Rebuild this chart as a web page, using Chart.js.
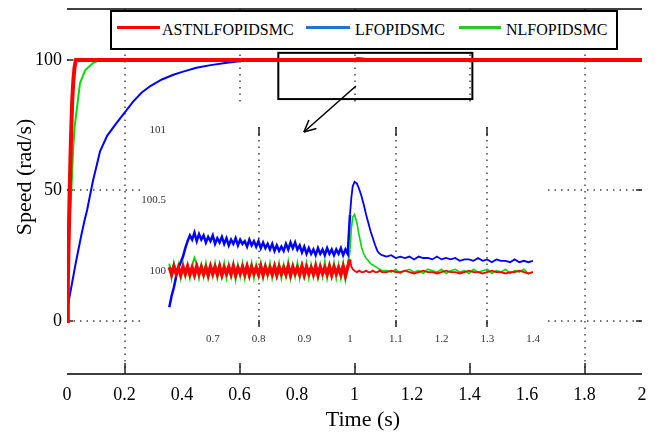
<!DOCTYPE html>
<html>
<head>
<meta charset="utf-8">
<script src="https://cdn.jsdelivr.net/npm/chart.js@4.4.1/dist/chart.umd.min.js"></script>
<style>
  html, body { margin: 0; padding: 0; background: #fff; }
  #wrap { position: relative; width: 659px; height: 435px; overflow: hidden; }
  #mainChart { position: absolute; left: 0; top: 0; }
  #insetChart { position: absolute; }
  #legend {
    position: absolute; left: 110px; top: 10px; width: 504px; height: 36px;
    border: 2px solid #000; background: #fff;
    font-family: "Liberation Serif", "Times New Roman", serif; font-size: 16px; color: #000;
  }
  .lg-line { position: absolute; top: 14px; height: 3px; }
  .lg-text { position: absolute; top: 9px; line-height: 18px; white-space: nowrap; }
</style>
</head>
<body>
<div id="wrap">
  <canvas id="mainChart" width="659" height="435"></canvas>
  <canvas id="insetChart"></canvas>
  <div id="legend"></div>
</div>
<script>
// Series names and colours
const seriesNames = ["ASTNLFOPIDSMC", "LFOPIDSMC", "NLFOPIDSMC"];
const lineColors = ["#ff0000", "#0000ff", "#00dd00"];
const legendColors = ["#ff0000", "#1f77c8", "#22cc22"];
const xTitle = "Time (s)";
const yTitle = "Speed (rad/s)";

// Main plot: ticks
const xTicksMain = [0, 0.2, 0.4, 0.6, 0.8, 1, 1.2, 1.4, 1.6, 1.8, 2];
const xGridMain = [0.2, 0.6, 1, 1.4, 1.8];
const yTicksMain = [0, 50, 100];

// Main plot: speed responses (time s, speed rad/s)
const tRed = [0, 0.003, 0.006, 0.009, 0.012, 0.015, 0.018, 0.022, 0.026, 0.031, 2];
const vRed = [0, 15, 32, 48, 62, 74, 84, 92, 97, 100, 100];

const tBlue = [0, 0.01, 0.02, 0.03, 0.04, 0.05, 0.06, 0.07, 0.09, 0.115, 0.14, 0.17, 0.195,
  0.23, 0.26, 0.29, 0.33, 0.37, 0.404, 0.45, 0.5, 0.55, 0.6, 0.65,
  0.995, 1.0, 1.012, 1.025, 1.04, 1.06, 1.08, 2];
const vBlue = [4, 10, 16, 22, 27.5, 33, 38, 42.5, 53.5, 65, 71, 75.5, 79,
  84, 87.5, 90, 92.5, 94.3, 95.5, 97, 98, 98.8, 99.5, 100.2,
  100.13, 100.4, 100.63, 100.55, 100.34, 100.15, 100.1, 100.05];

const tGreen = [0, 0.004, 0.009, 0.014, 0.018, 0.021, 0.026, 0.034, 0.045, 0.063, 0.09, 0.115,
  0.995, 1.003, 1.01, 1.025, 1.04, 1.07, 2];
const vGreen = [0, 25, 38, 47.5, 57, 65, 74, 81, 91, 96, 98.8, 100,
  100, 100.3, 100.4, 100.17, 100.07, 100, 100];

// Inset (zoom on 0.6 - 1.4 s): ticks
const xTicksInset = [0.7, 0.8, 0.9, 1, 1.1, 1.2, 1.3, 1.4];
const xGridInset = [0.8, 1.1, 1.3];
const yTicksInset = [100, 100.5, 101];

// Inset: time samples
const tInset = [
  0.605, 0.61, 0.615, 0.62, 0.625, 0.63, 0.635, 0.64, 0.645, 0.65,
  0.655, 0.66, 0.665, 0.67, 0.675, 0.68, 0.685, 0.69, 0.695, 0.7,
  0.705, 0.71, 0.715, 0.72, 0.725, 0.73, 0.735, 0.74, 0.745, 0.75,
  0.755, 0.76, 0.765, 0.77, 0.775, 0.78, 0.785, 0.79, 0.795, 0.8,
  0.805, 0.81, 0.815, 0.82, 0.825, 0.83, 0.835, 0.84, 0.845, 0.85,
  0.855, 0.86, 0.865, 0.87, 0.875, 0.88, 0.885, 0.89, 0.895, 0.9,
  0.905, 0.91, 0.915, 0.92, 0.925, 0.93, 0.935, 0.94, 0.945, 0.95,
  0.955, 0.96, 0.965, 0.97, 0.975, 0.98, 0.985, 0.99, 0.995,
  1.0, 1.003, 1.006, 1.01, 1.015, 1.02, 1.025, 1.03, 1.035, 1.04, 1.045, 1.05, 1.055, 1.06, 1.065, 1.07,
  1.08, 1.09, 1.1, 1.11, 1.12, 1.13, 1.14, 1.15, 1.16, 1.17, 1.18, 1.19, 1.2,
  1.21, 1.22, 1.23, 1.24, 1.25, 1.26, 1.27, 1.28, 1.29, 1.3,
  1.31, 1.32, 1.33, 1.34, 1.35, 1.36, 1.37, 1.38, 1.39, 1.4
];

const redInset = [
  100.025, 99.975, 100.03, 99.98, 100.02, 99.97, 100.025, 99.98, 100.03, 99.975,
  100.02, 99.97, 100.03, 99.98, 100.025, 99.975, 100.02, 99.97, 100.03, 99.98,
  100.025, 99.975, 100.03, 99.97, 100.02, 99.98, 100.025, 99.975, 100.03, 99.97,
  100.02, 99.98, 100.025, 99.975, 100.03, 99.97, 100.025, 99.98, 100.02, 99.975,
  100.03, 99.97, 100.025, 99.98, 100.02, 99.975, 100.03, 99.97, 100.025, 99.98,
  100.02, 99.975, 100.03, 99.97, 100.025, 99.98, 100.02, 99.975, 100.03, 99.97,
  100.025, 99.98, 100.02, 99.975, 100.03, 99.97, 100.025, 99.98, 100.02, 99.975,
  100.03, 99.97, 100.025, 99.98, 100.02, 99.975, 100.03, 99.965, 100.025,
  100.08, 100.03, 100.01, 100.0, 99.99, 100.0, 99.99, 99.99, 100.0, 99.99, 99.99, 100.0, 99.99, 99.99, 100.0, 99.99,
  99.99, 100.0, 99.99, 99.99, 100.0, 99.99, 99.98, 99.99, 100.0, 99.99, 99.99, 99.98, 99.99,
  100.0, 99.99, 99.99, 99.98, 99.99, 100.0, 99.99, 99.99, 99.98, 99.99,
  100.0, 99.99, 99.99, 99.98, 99.99, 99.99, 100.0, 99.99, 99.98, 99.99
];

const blueInset = [
  99.74, 99.82, 99.88, 99.96, 100.02, 100.06, 100.10, 100.16, 100.21, 100.25,
  100.22, 100.27, 100.21, 100.26, 100.22, 100.25, 100.20, 100.24, 100.21, 100.25,
  100.19, 100.23, 100.20, 100.24, 100.19, 100.23, 100.18, 100.22, 100.19, 100.23,
  100.18, 100.22, 100.19, 100.21, 100.17, 100.22, 100.18, 100.21, 100.17, 100.21,
  100.16, 100.20, 100.16, 100.19, 100.15, 100.19, 100.14, 100.18, 100.14, 100.17,
  100.14, 100.19, 100.15, 100.20, 100.16, 100.20, 100.15, 100.18, 100.13, 100.17,
  100.12, 100.16, 100.12, 100.15, 100.11, 100.16, 100.12, 100.15, 100.11, 100.16,
  100.12, 100.15, 100.11, 100.15, 100.12, 100.16, 100.11, 100.15, 100.12,
  100.40, 100.52, 100.60, 100.63, 100.62, 100.58, 100.53, 100.47, 100.40, 100.34, 100.28, 100.23, 100.18, 100.14, 100.12, 100.11,
  100.10, 100.11, 100.09, 100.10, 100.09, 100.10, 100.08, 100.10, 100.09, 100.09, 100.08, 100.10, 100.08,
  100.09, 100.08, 100.09, 100.07, 100.08, 100.08, 100.07, 100.09, 100.07, 100.08,
  100.06, 100.08, 100.07, 100.07, 100.06, 100.08, 100.06, 100.07, 100.06, 100.07
];

const greenInset = [
  100.05, 99.95, 100.05, 99.96, 100.04, 99.95, 100.05, 99.96, 100.03, 99.95,
  100.04, 100.09, 100.05, 99.95, 100.04, 99.96, 100.05, 99.95, 100.03, 99.96,
  100.05, 99.95, 100.04, 99.96, 100.05, 99.95, 100.04, 99.96, 100.05, 99.94,
  100.04, 99.96, 100.05, 99.95, 100.03, 99.96, 100.05, 99.95, 100.04, 99.96,
  100.05, 99.95, 100.04, 99.96, 100.05, 99.95, 100.03, 99.96, 100.05, 99.95,
  100.04, 99.96, 100.06, 99.95, 100.04, 99.96, 100.05, 99.95, 100.04, 99.96,
  100.05, 99.95, 100.04, 99.96, 100.05, 99.95, 100.04, 99.96, 100.06, 99.95,
  100.04, 99.96, 100.05, 99.95, 100.04, 99.95, 100.05, 99.94, 100.04,
  100.15, 100.30, 100.38, 100.40, 100.34, 100.25, 100.17, 100.12, 100.09, 100.07, 100.05, 100.04, 100.03, 100.02, 100.01, 100.00,
  100.00, 99.99, 100.01, 99.98, 100.00, 100.01, 99.99, 100.00, 99.98, 100.01, 100.00, 99.99, 100.01,
  99.98, 100.00, 100.01, 99.99, 100.00, 99.98, 100.01, 99.99, 100.00, 100.01,
  99.98, 100.00, 99.99, 100.01, 99.98, 100.00, 99.99, 100.01, 99.98, 99.99
];

// where the inset sits on the page (white panel + its canvas)
const INSET = { left: 140, top: 103, width: 408, height: 259 };

const serif = "'Liberation Serif', 'Times New Roman', serif";

function toPoints(ts, vs) {
  const n = Math.min(ts.length, vs.length);
  const out = [];
  for (let i = 0; i < n; i++) out.push({ x: ts[i], y: vs[i] });
  return out;
}

function strokeLine(ctx, x1, y1, x2, y2) {
  ctx.beginPath();
  ctx.moveTo(x1, y1);
  ctx.lineTo(x2, y2);
  ctx.stroke();
}

// thick noisy band before the load step, thin trace after it
function stepWidth(before, after) {
  return c => (c.p0.parsed.x < 0.999 ? before : after);
}

// Legend (HTML, built from the series)
const legendEl = document.getElementById("legend");
const legendLayout = [ [5, 43, 50], [194, 44, 243], [347, 42, 394] ];
seriesNames.forEach((name, i) => {
  const [lx, lw, tx] = legendLayout[i];
  legendEl.innerHTML += `<div class="lg-line" style="left:${lx}px;width:${lw}px;background:${legendColors[i]}"></div>` +
    `<div class="lg-text" style="left:${tx}px">${name}</div>`;
});

// Frame, dotted grid, inward ticks, zoom box and arrow of the main plot
const mainFrame = {
  id: "mainFrame",
  beforeDatasetsDraw(chart) {
    const { ctx, chartArea: a, scales: { x, y } } = chart;
    ctx.save();

    ctx.strokeStyle = "#444";
    ctx.lineWidth = 1.5;
    ctx.setLineDash([1.5, 5]);
    xGridMain.forEach(v => {
      const px = Math.round(x.getPixelForValue(v));
      strokeLine(ctx, px, a.top, px, a.bottom);
    });
    yTicksMain.forEach(v => {
      const py = Math.round(y.getPixelForValue(v));
      strokeLine(ctx, a.left, py, a.right, py);
    });
    ctx.setLineDash([]);

    // white panel behind the inset
    ctx.fillStyle = "#fff";
    ctx.fillRect(INSET.left, INSET.top, INSET.width, INSET.height);

    // top and bottom axis lines
    ctx.strokeStyle = "#000";
    ctx.lineWidth = 1.5;
    strokeLine(ctx, a.left, a.top, a.right, a.top);
    strokeLine(ctx, a.left, a.bottom, a.right, a.bottom);

    // inward tick marks
    ctx.strokeStyle = "#222";
    xGridMain.forEach(v => {
      const px = Math.round(x.getPixelForValue(v));
      strokeLine(ctx, px, a.bottom, px, a.bottom - 11);
      strokeLine(ctx, px, a.top, px, a.top + 10);
    });
    yTicksMain.forEach(v => {
      const py = Math.round(y.getPixelForValue(v));
      strokeLine(ctx, a.left, py, a.left + 6, py);
      strokeLine(ctx, a.right, py, a.right - 6, py);
    });

    // zoom box
    ctx.strokeStyle = "#000";
    ctx.lineWidth = 2;
    const bx0 = x.getPixelForValue(0.735), bx1 = x.getPixelForValue(1.41);
    const by0 = y.getPixelForValue(102.7), by1 = y.getPixelForValue(85);
    ctx.strokeRect(bx0, by0, bx1 - bx0, by1 - by0);

    // arrow towards the inset
    ctx.lineWidth = 1.5;
    const ax0 = x.getPixelForValue(1.005), ay0 = y.getPixelForValue(90);
    const ax1 = x.getPixelForValue(0.824), ay1 = y.getPixelForValue(72.4);
    strokeLine(ctx, ax0, ay0, ax1, ay1);
    const ang = Math.atan2(ay1 - ay0, ax1 - ax0);
    const head = 13, spread = 0.45;
    strokeLine(ctx, ax1, ay1, ax1 - head * Math.cos(ang - spread), ay1 - head * Math.sin(ang - spread));
    strokeLine(ctx, ax1, ay1, ax1 - head * Math.cos(ang + spread), ay1 - head * Math.sin(ang + spread));

    // axis titles
    ctx.fillStyle = "#000";
    ctx.font = "22px " + serif;
    ctx.textAlign = "center";
    ctx.textBaseline = "middle";
    ctx.fillText(xTitle, 363, 420);
    ctx.translate(25, 177);
    ctx.rotate(-Math.PI / 2);
    ctx.fillText(yTitle, 0, 0);

    ctx.restore();
  }
};

new Chart(document.getElementById("mainChart"), {
  type: "line",
  data: {
    datasets: [
      { label: seriesNames[0], data: toPoints(tRed, vRed), borderColor: lineColors[0], borderWidth: 4 },
      { label: seriesNames[1], data: toPoints(tBlue, vBlue), borderColor: lineColors[1], borderWidth: 2 },
      { label: seriesNames[2], data: toPoints(tGreen, vGreen), borderColor: lineColors[2], borderWidth: 2 }
    ]
  },
  options: {
    responsive: false,
    animation: false,
    layout: { padding: { top: 9, right: 17, left: 0, bottom: 0 } },
    elements: { point: { radius: 0 }, line: { tension: 0 } },
    plugins: { legend: { display: false }, tooltip: { enabled: false } },
    scales: {
      x: {
        type: "linear", min: 0, max: 2,
        afterBuildTicks: s => { s.ticks = xTicksMain.map(v => ({ value: v })); },
        afterFit: s => { s.height = 61; },
        grid: { display: false, drawTicks: false },
        border: { display: false },
        ticks: {
          autoSkip: false, maxRotation: 0, padding: 10, color: "#000",
          font: { family: serif, size: 18 },
          callback: v => String(v)
        }
      },
      y: {
        min: -20.3, max: 119.5,
        afterBuildTicks: s => { s.ticks = yTicksMain.map(v => ({ value: v })); },
        afterFit: s => { s.width = 67; s.paddingTop = 0; s.paddingBottom = 0; },
        grid: { display: false, drawTicks: false },
        border: { display: false },
        ticks: { padding: 5, color: "#000", font: { family: serif, size: 18 } }
      }
    }
  },
  plugins: [mainFrame]
});

// Inset chart
const insetCanvas = document.getElementById("insetChart");
insetCanvas.width = INSET.width;
insetCanvas.height = INSET.height;
insetCanvas.style.left = INSET.left + "px";
insetCanvas.style.top = INSET.top + "px";

const insetFrame = {
  id: "insetFrame",
  beforeDatasetsDraw(chart) {
    const { ctx, chartArea: a, scales: { x } } = chart;
    ctx.save();
    ctx.strokeStyle = "#444";
    ctx.lineWidth = 1.5;
    ctx.setLineDash([1.5, 5]);
    xGridInset.forEach(v => {
      const px = Math.round(x.getPixelForValue(v));
      strokeLine(ctx, px, a.top, px, a.bottom);
    });
    ctx.setLineDash([]);
    ctx.strokeStyle = "#222";
    xGridInset.forEach(v => {
      const px = Math.round(x.getPixelForValue(v));
      strokeLine(ctx, px, a.top, px, a.top + 9);
      strokeLine(ctx, px, a.bottom, px, a.bottom - 7);
    });
    ctx.restore();
  }
};

new Chart(insetCanvas, {
  type: "line",
  data: {
    datasets: [
      { label: seriesNames[0], data: toPoints(tInset, redInset), borderColor: lineColors[0], borderWidth: 3.5,
        segment: { borderWidth: stepWidth(3.5, 1.8) } },
      { label: seriesNames[1], data: toPoints(tInset, blueInset), borderColor: lineColors[1], borderWidth: 2.5,
        segment: { borderWidth: stepWidth(2.5, 1.8) } },
      { label: seriesNames[2], data: toPoints(tInset, greenInset), borderColor: lineColors[2], borderWidth: 2,
        segment: { borderWidth: stepWidth(2, 1.6) } }
    ]
  },
  options: {
    responsive: false,
    animation: false,
    layout: { padding: { top: 24, right: 15, left: 0, bottom: 0 } },
    elements: { point: { radius: 0 }, line: { tension: 0 } },
    plugins: { legend: { display: false }, tooltip: { enabled: false } },
    scales: {
      x: {
        type: "linear", min: 0.6, max: 1.4,
        afterBuildTicks: s => { s.ticks = xTicksInset.map(v => ({ value: v })); },
        afterFit: s => { s.height = 35; },
        grid: { display: false, drawTicks: false },
        border: { display: false },
        ticks: {
          autoSkip: false, maxRotation: 0, padding: 6, color: "#333",
          font: { family: serif, size: 11 },
          callback: v => String(v)
        }
      },
      y: {
        min: 99.6, max: 101.02,
        afterBuildTicks: s => { s.ticks = yTicksInset.map(v => ({ value: v })); },
        afterFit: s => { s.width = 27; },
        grid: { display: false, drawTicks: false },
        border: { display: false },
        ticks: { padding: 1, color: "#333", font: { family: serif, size: 11 }, callback: v => String(v) }
      }
    }
  },
  plugins: [insetFrame]
});
</script>
</body>
</html>
